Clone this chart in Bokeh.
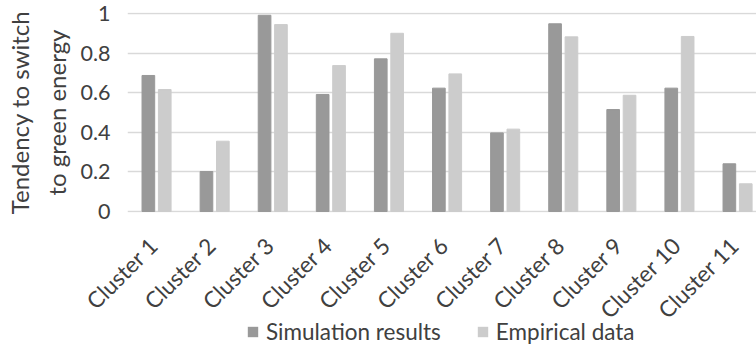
import math

from bokeh.core.properties import value
from bokeh.embed import file_html
from bokeh.layouts import column
from bokeh.models import ColumnDataSource, LabelSet, Legend, LegendItem, Range1d
from bokeh.plotting import figure
from bokeh.resources import INLINE
from bokeh.transform import dodge

# Tendency to switch to green energy, per cluster
clusters = [f"Cluster {i}" for i in range(1, 12)]
simulation = [0.687, 0.202, 0.991, 0.591, 0.771, 0.623, 0.397, 0.948, 0.515, 0.623, 0.241]
empirical = [0.616, 0.355, 0.944, 0.737, 0.900, 0.695, 0.416, 0.882, 0.587, 0.884, 0.140]
series_names = ["Simulation results", "Empirical data"]
y_ticks = [0, 0.2, 0.4, 0.6, 0.8, 1]
y_tick_labels = ["0", "0.2", "0.4", "0.6", "0.8", "1"]

FONT = "Lato"
DARK = "#999999"
LIGHT = "#cccccc"
GRID = "#d9d9d9"
TEXT = "#404040"

WIDTH = 756
LEFT = 127            # space left of the plot area
FRAME_W = WIDTH - LEFT
X_END = 10.826        # visible extent of the category axis (last slot runs off the edge)
PX_PER_UNIT = FRAME_W / X_END

# one unit per cluster, bars centred in each slot
x_pos = [i + 0.5 for i in range(len(clusters))]
source = ColumnDataSource(dict(x=x_pos, cluster=clusters, sim=simulation, emp=empirical))

# ---- main chart: bars, grid and value axis ----
TOP_H = 225
p = figure(
    x_range=Range1d(0, X_END),
    y_range=Range1d(-0.005, 1.005),
    frame_width=FRAME_W,
    frame_height=200,
    min_border_left=LEFT,
    min_border_right=0,
    min_border_top=12,
    min_border_bottom=TOP_H - 212,
    x_axis_location=None,
    output_backend="svg",
    toolbar_location=None,
)
p.frame_align = False
p.outline_line_color = None
p.background_fill_color = "white"

p.vbar(x=dodge("x", -0.141), top="sim", width=0.218, source=source,
       fill_color=DARK, line_color=DARK)
p.vbar(x=dodge("x", 0.141), top="emp", width=0.218, source=source,
       fill_color=LIGHT, line_color=LIGHT)

p.yaxis.ticker = y_ticks
p.yaxis.major_label_overrides = {t: s for t, s in zip(y_ticks, y_tick_labels)}
p.yaxis.axis_line_color = None
p.yaxis.major_tick_line_color = None
p.yaxis.minor_tick_line_color = None
p.yaxis.major_tick_out = 0
p.yaxis.major_tick_in = 0
p.yaxis.minor_tick_out = 0
p.yaxis.major_label_standoff = 17
p.yaxis.major_label_text_font = FONT
p.yaxis.major_label_text_font_size = "21.5px"
p.yaxis.major_label_text_color = TEXT
p.yaxis.axis_label = "Tendency to switch\nto green energy"
p.yaxis.axis_label_text_font = FONT
p.yaxis.axis_label_text_font_size = "24px"
p.yaxis.axis_label_text_font_style = "normal"
p.yaxis.axis_label_text_color = TEXT
p.yaxis.axis_label_text_line_height = 1.3
p.yaxis.axis_label_standoff = 6

p.xgrid.grid_line_color = None
p.ygrid.ticker = y_ticks
p.ygrid.grid_line_color = GRID
p.ygrid.grid_line_width = 1.5

# ---- strip below: rotated category names and legend ----
STRIP_H = 351 - TOP_H
q = figure(
    x_range=Range1d(-LEFT / PX_PER_UNIT, X_END),
    y_range=Range1d(0, STRIP_H),
    width=WIDTH,
    height=STRIP_H,
    min_border=0,
    x_axis_location=None,
    y_axis_location=None,
    output_backend="svg",
    toolbar_location=None,
)
q.frame_align = False
q.outline_line_color = None
q.xgrid.grid_line_color = None
q.ygrid.grid_line_color = None

label_src = ColumnDataSource(dict(x=x_pos, y=[351 - 247] * len(clusters), text=clusters))
q.add_layout(LabelSet(
    x="x", y="y", text="text", source=label_src,
    x_offset=3, angle=math.pi / 4,
    text_align="right", text_baseline="alphabetic",
    text_font=value(FONT), text_font_size="22.5px", text_color=TEXT,
))

# flat (zero-height) bars that only supply the legend swatches
sw_sim = q.vbar(x="x", top=0, width=0.2, source=source, fill_color=DARK, line_color=None)
sw_emp = q.vbar(x="x", top=0, width=0.2, source=source, fill_color=LIGHT, line_color=None)

legend = Legend(
    items=[LegendItem(label=series_names[0], renderers=[sw_sim]),
           LegendItem(label=series_names[1], renderers=[sw_emp])],
    orientation="horizontal",
    location=(246, 6),
    glyph_width=13,
    glyph_height=13,
    label_standoff=7,
    spacing=35,
    padding=2,
    margin=0,
    border_line_color=None,
    background_fill_alpha=0,
    label_text_font=FONT,
    label_text_font_size="22.5px",
    label_text_color=TEXT,
)
q.add_layout(legend)

layout = column(p, q, spacing=0)
open("out.html", "w").write(file_html(layout, INLINE))
